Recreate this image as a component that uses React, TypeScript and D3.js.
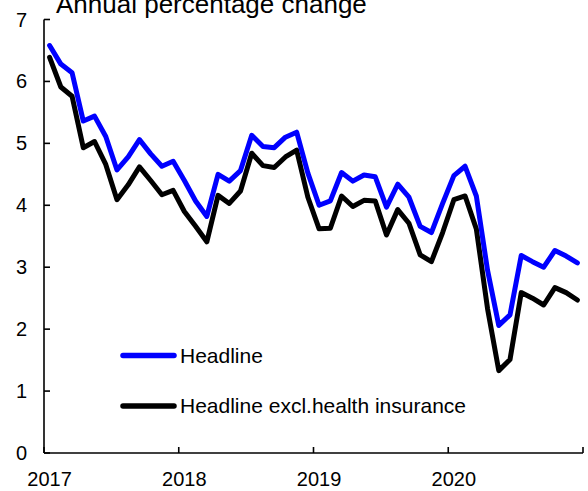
import React from "react";
import * as d3 from "d3";

const years = ["2017", "2018", "2019", "2020"];
const yTicks = [0, 1, 2, 3, 4, 5, 6, 7];

const headline = [
  6.58, 6.28, 6.14, 5.36, 5.44, 5.11, 4.57, 4.78, 5.06, 4.83, 4.63, 4.71,
  4.40, 4.07, 3.82, 4.50, 4.39, 4.56, 5.13, 4.95, 4.93, 5.10, 5.18, 4.52,
  4.00, 4.07, 4.53, 4.39, 4.49, 4.46, 3.97, 4.34, 4.13, 3.66, 3.56, 4.03,
  4.48, 4.63, 4.15, 2.95, 2.06, 2.23, 3.19, 3.09, 3.00, 3.27, 3.18, 3.07,
];

const exclHealth = [
  6.39, 5.91, 5.76, 4.93, 5.03, 4.66, 4.09, 4.33, 4.62, 4.40, 4.17, 4.24,
  3.90, 3.66, 3.41, 4.16, 4.03, 4.23, 4.84, 4.64, 4.61, 4.78, 4.89, 4.13,
  3.62, 3.63, 4.15, 3.98, 4.08, 4.07, 3.52, 3.93, 3.71, 3.20, 3.09, 3.56,
  4.09, 4.15, 3.62, 2.33, 1.33, 1.51, 2.59, 2.50, 2.39, 2.67, 2.59, 2.47,
];

const seriesNames = ["Headline", "Headline excl.health insurance"];
const seriesColors = ["#0000ff", "#000000"];
const title = "Annual percentage change";

const W = 588;
const H = 491;
const FONT = "'Liberation Sans', Arial, Helvetica, sans-serif";

export default function App() {
  const x = d3.scaleLinear().domain([0, 48]).range([44, 583]);
  const y = d3.scaleLinear().domain([0, 7]).range([453, 19.5]);

  const line = d3
    .line<number>()
    .x((_, i) => x(i + 0.5))
    .y((d) => y(d))
    .curve(d3.curveLinear);

  const series = [headline, exclHealth];
  const xTickMonths = [0, 12, 24, 36, 48];

  return (
    <div style={{ position: "fixed", left: 0, top: 0 }}>
      <svg width={W} height={H} style={{ display: "block", background: "#fff" }}>
        <rect x={0} y={0} width={W} height={H} fill="#fff" />
        <text x={56} y={13} fontFamily={FONT} fontSize={26} fill="#000">
          {title}
        </text>

        {/* axes */}
        <line x1={x(0)} x2={x(0)} y1={y(7)} y2={y(0)} stroke="#000" strokeWidth={1.6} />
        <line x1={x(0)} x2={x(48)} y1={y(0)} y2={y(0)} stroke="#000" strokeWidth={1.6} />
        {yTicks.map((t) => (
          <g key={"y" + t}>
            <line x1={x(0)} x2={x(0) + 6} y1={y(t)} y2={y(t)} stroke="#000" strokeWidth={1.6} />
            <text
              x={27}
              y={y(t)}
              dy="0.35em"
              textAnchor="end"
              fontFamily={FONT}
              fontSize={20}
              fill="#000"
            >
              {t}
            </text>
          </g>
        ))}
        {xTickMonths.map((m) => (
          <line key={"xt" + m} x1={x(m)} x2={x(m)} y1={y(0)} y2={y(0) - 6} stroke="#000" strokeWidth={1.6} />
        ))}
        {years.map((yr, i) => (
          <text
            key={yr}
            x={x(i * 12 + 0.5)}
            y={486}
            textAnchor="middle"
            fontFamily={FONT}
            fontSize={20}
            fill="#000"
          >
            {yr}
          </text>
        ))}

        {/* lines: draw black first, blue over? order per reference: blue over black */}
        {[1, 0].map((si) => (
          <path
            key={"s" + si}
            d={line(series[si]) || ""}
            fill="none"
            stroke={seriesColors[si]}
            strokeWidth={5}
            strokeLinejoin="round"
            strokeLinecap="round"
          />
        ))}

        {/* legend */}
        {seriesNames.map((name, i) => {
          const ly = 355.5 + i * 50.5;
          return (
            <g key={name}>
              <line
                x1={123}
                x2={174}
                y1={ly}
                y2={ly}
                stroke={seriesColors[i]}
                strokeWidth={5.5}
                strokeLinecap="round"
              />
              <text x={180} y={ly} dy="0.35em" fontFamily={FONT} fontSize={21} fill="#000">
                {name}
              </text>
            </g>
          );
        })}
      </svg>
    </div>
  );
}
